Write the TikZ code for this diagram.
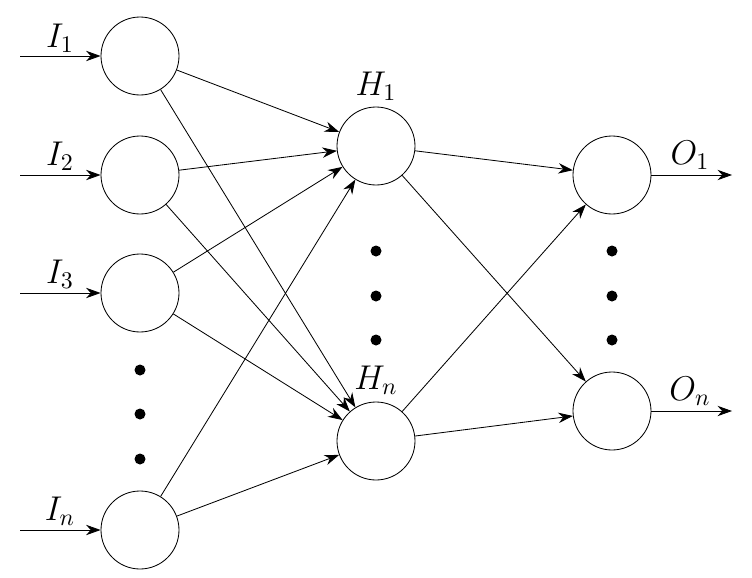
\documentclass[tikz,border=0pt]{standalone}
\usetikzlibrary{arrows.meta}
\begin{document}
\begin{tikzpicture}[x=0.01693cm,y=-0.01693cm,
  neuron/.style={circle,draw,minimum size=78*0.01693cm,inner sep=0pt},
  conn/.style={-{Stealth[length=7pt,width=5pt]}},
  lbl/.style={font=\Large,scale=1.15},
  dot/.style={circle,fill,inner sep=0pt,minimum size=11*0.01693cm}]
\useasboundingbox (0,0) rectangle (752,578);
% inputs
\node[neuron] (I1) at (140,56) {};
\node[neuron] (I2) at (140,175) {};
\node[neuron] (I3) at (140,293) {};
\node[neuron] (In) at (140,530) {};
% hidden
\node[neuron] (H1) at (376,146) {};
\node[neuron] (Hn) at (376,441) {};
% outputs
\node[neuron] (O1) at (612,175) {};
\node[neuron] (On) at (612,411) {};
% dots
\node[dot] (d1) at (140,370) {};
\node[dot] (d2) at (140,414) {};
\node[dot] (d3) at (140,459) {};
\node[dot] (d4) at (376,251) {};
\node[dot] (d5) at (376,296) {};
\node[dot] (d6) at (376,340) {};
\node[dot] (d7) at (612,251) {};
\node[dot] (d8) at (612,296) {};
\node[dot] (d9) at (612,340) {};
% input arrows
\coordinate (a1) at (20,56);
\coordinate (a2) at (20,175);
\coordinate (a3) at (20,293);
\coordinate (an) at (20,530);
\draw[conn] (a1) -- (I1);
\draw[conn] (a2) -- (I2);
\draw[conn] (a3) -- (I3);
\draw[conn] (an) -- (In);
\coordinate (b1) at (732,175);
\coordinate (bn) at (732,411);
\draw[conn] (O1) -- (b1);
\draw[conn] (On) -- (bn);
% labels
\node[lbl] (lI1) at (60,38) {$I_1$};
\node[lbl] (lI2) at (60,156) {$I_2$};
\node[lbl] (lI3) at (60,274) {$I_3$};
\node[lbl] (lIn) at (60,511) {$I_n$};
\node[lbl] (lH1) at (376,86) {$H_1$};
\node[lbl] (lHn) at (376,380) {$H_n$};
\node[lbl] (lO1) at (690,155) {$O_1$};
\node[lbl] (lOn) at (690,391) {$O_n$};
% connections
\foreach \i in {I1,I2,I3,In}{
  \draw[conn] (\i) -- (H1);
  \draw[conn] (\i) -- (Hn);
}
\foreach \h in {H1,Hn}{
  \draw[conn] (\h) -- (O1);
  \draw[conn] (\h) -- (On);
}
\end{tikzpicture}
\end{document}
